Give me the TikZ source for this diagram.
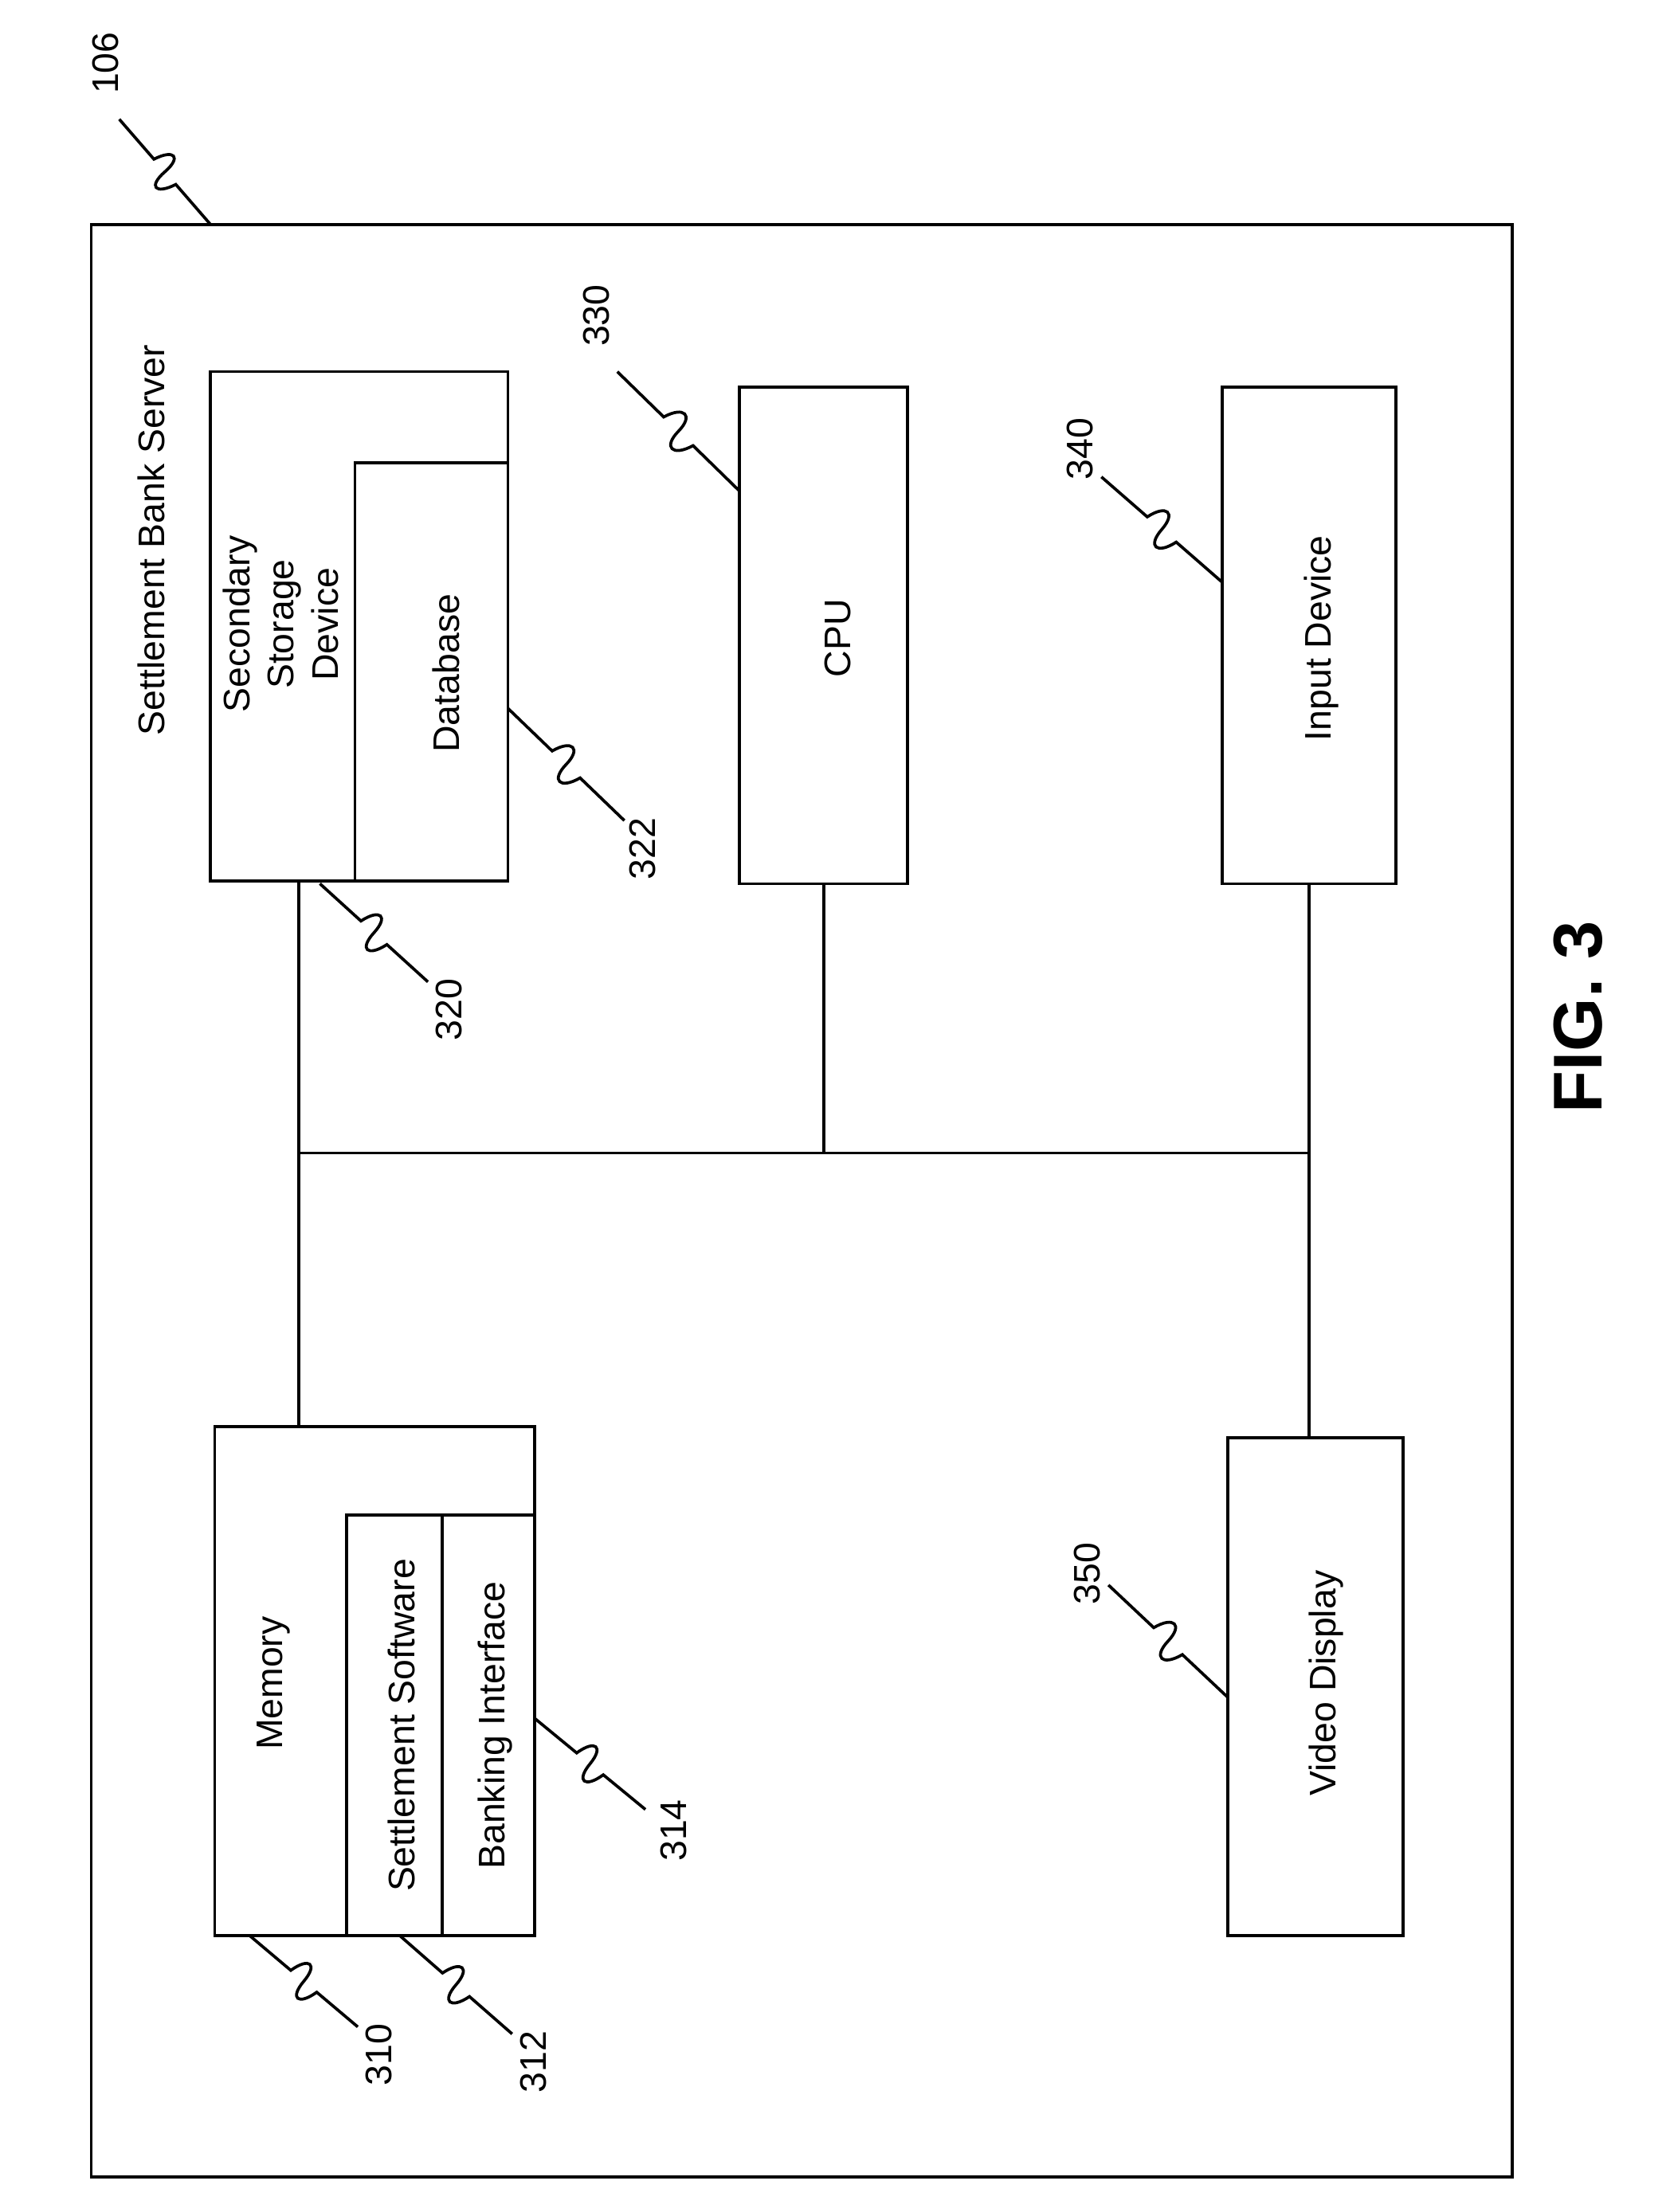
\documentclass[tikz,border=0pt]{standalone}
\usepackage{fontspec}
\setmainfont{Liberation Sans}
\usetikzlibrary{calc}
\newcommand{\leadline}[2]{\draw (#1) -- ($(#1)!.38!(#2)$) .. controls ($(#1)!.42!(#2)!.16cm!90:(#2)$) and ($(#1)!.50!(#2)!.16cm!90:(#2)$) .. ($(#1)!.5!(#2)$) .. controls ($(#1)!.50!(#2)!.16cm!-90:(#2)$) and ($(#1)!.58!(#2)!.16cm!-90:(#2)$) .. ($(#1)!.62!(#2)$) -- (#2);}
\begin{document}
\begin{tikzpicture}[line width=0.6pt, font=\fontsize{7.5}{9}\selectfont,
  box/.style={draw, minimum width=#1, inner sep=0pt},
  txt/.style={rotate=90, align=center},
  num/.style={rotate=90}]
        \useasboundingbox (0,0) rectangle (11.9,-15.77);
        \draw (0.65,-1.6) rectangle (10.78,-15.52);
        % boxes
        \node[box=2.12cm, minimum height=3.63cm] (store) at (2.56,-4.465) {};
        \node[box=1.09cm, minimum height=2.98cm] (db) at (3.075,-4.79) {};
        \node[box=1.2cm, minimum height=3.54cm] (cpu) at (5.87,-4.53) {};
        \node[box=1.24cm, minimum height=3.54cm] (inp) at (9.33,-4.53) {};
        \node[box=2.28cm, minimum height=3.63cm] (mem) at (2.67,-11.985) {};
        \node[box=0.68cm, minimum height=3.0cm] (soft) at (2.81,-12.3) {};
        \node[box=0.66cm, minimum height=3.0cm] (bank) at (3.48,-12.3) {};
        \node[box=1.25cm, minimum height=3.55cm] (vid) at (9.375,-12.025) {};
        % texts
        \node[txt] (srvtxt) at (1.08,-3.85) {Settlement Bank Server};
        \node[txt] at (2.0,-4.45) {Secondary\\Storage\\Device};
        \node[txt] at (3.18,-4.8) {Database};
        \node[txt] at (5.97,-4.55) {CPU};
        \node[txt] at (9.42,-4.55) {Input Device};
        \node[txt] at (1.95,-12.0) {Memory};
        \node[txt] at (2.86,-12.3) {Settlement Software};
        \node[txt] at (3.53,-12.3) {Banking Interface};
        \node[txt] at (9.45,-12.0) {Video Display};
        \node[rotate=90, font=\fontsize{14}{16}\bfseries] (fig) at (11.25,-7.25) {FIG. 3};
        % bus
        \coordinate (b1) at (2.13,-8.22);
        \coordinate (b2) at (cpu.south |- b1);
        \coordinate (b3) at (inp.south |- b1);
        \draw (b1) -- (b3);
        \draw (b1) -- (b1 |- store.south);
        \draw (b1) -- (b1 |- mem.north);
        \draw (b2) -- (cpu.south);
        \draw (b3) -- (inp.south);
        \draw (b3) -- (b3 |- vid.north);
        % reference numbers
        \node[num] (n106) at (0.75,-0.45) {106};
        \node[num] (n330) at (4.25,-2.25) {330};
        \node[num] (n340) at (7.7,-3.2) {340};
        \node[num] (n322) at (4.58,-6.05) {322};
        \node[num] (n320) at (3.2,-7.2) {320};
        \node[num] (n314) at (4.8,-13.05) {314};
        \node[num] (n310) at (2.7,-14.65) {310};
        \node[num] (n312) at (3.8,-14.7) {312};
        \node[num] (n350) at (7.75,-11.22) {350};
        \coordinate (c106a) at (0.85,-0.85); \coordinate (c106b) at (1.5,-1.6);
        \coordinate (c330a) at (4.4,-2.65); \coordinate (c330b) at (5.27,-3.5);
        \coordinate (c340a) at (7.85,-3.4); \coordinate (c340b) at (8.71,-4.15);
        \coordinate (c322a) at (3.62,-5.05); \coordinate (c322b) at (4.45,-5.85);
        \coordinate (c320a) at (2.28,-6.3); \coordinate (c320b) at (3.05,-7.0);
        \coordinate (c314a) at (3.81,-12.25); \coordinate (c314b) at (4.6,-12.9);
        \coordinate (c310a) at (1.78,-13.8); \coordinate (c310b) at (2.55,-14.45);
        \coordinate (c312a) at (2.85,-13.8); \coordinate (c312b) at (3.65,-14.5);
        \coordinate (c350a) at (7.9,-11.3); \coordinate (c350b) at (8.75,-12.1);
        \foreach \n in {106,330,340,322,320,314,310,312,350}
          {\leadline{c\n a}{c\n b}}
\end{tikzpicture}
\end{document}
